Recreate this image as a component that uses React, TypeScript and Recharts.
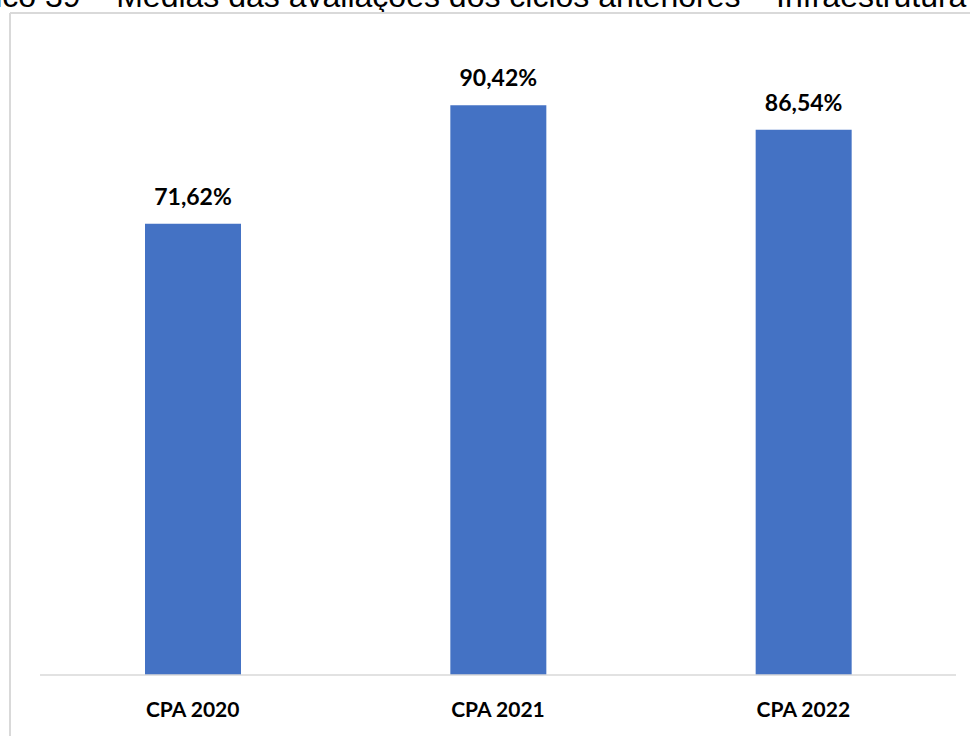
import { Bar, BarChart, LabelList, XAxis, YAxis } from "recharts";

const categories = ["CPA 2020", "CPA 2021", "CPA 2022"];
const averages = [71.62, 90.42, 86.54];
const yDomain = [0, 100];
const title = "Gráfico 39 – Médias das avaliações dos ciclos anteriores – Infraestrutura";

const data = categories.map((name, i) => ({ name, value: averages[i] }));

const fmtPct = (v: number) => v.toFixed(2).replace(".", ",") + "%";

export default function App() {
  return (
    <div
      style={{
        position: "fixed",
        top: 0,
        left: 0,
        width: 970,
        height: 736,
        overflow: "hidden",
        background: "#fff",
      }}
    >
      {/* caption of the pasted chart is clipped at the top, as in the source */}
      <svg width={970} height={736} style={{ position: "absolute", top: 0, left: 0 }}>
        <text
          x={-67}
          y={7}
          fontFamily="'Liberation Sans', Arial, sans-serif"
          fontSize={32}
          fill="#000"
        >
          {title}
        </text>
        <line x1={10} y1={13} x2={970} y2={13} stroke="#d9d9d9" strokeWidth={2} />
        <line x1={10} y1={13} x2={10} y2={736} stroke="#d9d9d9" strokeWidth={2} />
      </svg>
      <div style={{ position: "absolute", top: 0, left: 0 }}>
        <BarChart
          width={970}
          height={736}
          data={data}
          margin={{ top: 45, right: 14, bottom: 31, left: 40 }}
        >
          <XAxis
            dataKey="name"
            tickLine={false}
            axisLine={{ stroke: "#d9d9d9", strokeWidth: 1.5 }}
            tickMargin={21}
            tick={{ fill: "#000", fontSize: 21, fontWeight: 700, fontFamily: "Lato, 'Open Sans', sans-serif" }}
          />
          <YAxis hide domain={yDomain} />
          <Bar dataKey="value" fill="#4472c4" barSize={96} isAnimationActive={false}>
            <LabelList
              dataKey="value"
              position="top"
              offset={19}
              formatter={(v: number) => fmtPct(v)}
              style={{ fill: "#000", fontSize: 23, fontWeight: 700, fontFamily: "Lato, 'Open Sans', sans-serif" }}
            />
          </Bar>
        </BarChart>
      </div>
    </div>
  );
}
